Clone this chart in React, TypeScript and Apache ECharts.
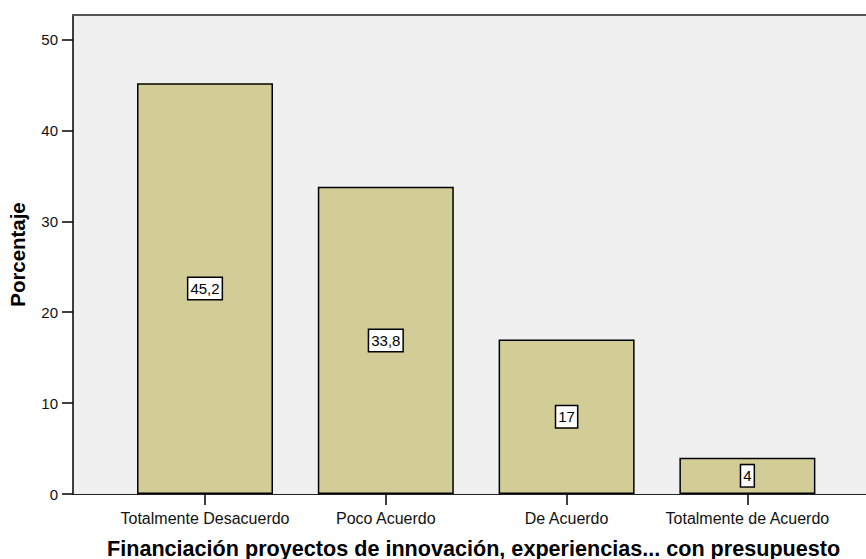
import React, { useEffect, useRef } from "react";
import * as echarts from "echarts";

const categories = ["Totalmente Desacuerdo", "Poco Acuerdo", "De Acuerdo", "Totalmente de Acuerdo"];
const percentages = [45.2, 33.8, 17, 4];
const yTicks = [0, 10, 20, 30, 40, 50];
const yAxisTitle = "Porcentaje";
const xAxisTitle = "Financiación proyectos de innovación, experiencias... con presupuesto";

const FONT = "'Liberation Sans', Arial, sans-serif";

export default function App() {
  const ref = useRef<HTMLDivElement>(null);
  useEffect(() => {
    document.body.style.margin = "0";
    if (!ref.current) return;
    const chart = echarts.init(ref.current, null, { renderer: "svg" });
    const yMax = 52.7;
    chart.setOption({
      animation: false,
      backgroundColor: "#ffffff",
      textStyle: { fontFamily: FONT },
      grid: [
        { left: 114.6, right: 28.2, top: 15, bottom: 65, containLabel: false, outerBoundsMode: "none" },
        { left: 73, right: 0, top: 15, bottom: 65, show: true, backgroundColor: "#f0f0f0", borderWidth: 0, containLabel: false, outerBoundsMode: "none" },
      ],
      xAxis: [
        {
          type: "category",
          gridIndex: 0,
          data: categories,
          axisLine: { show: false },
          axisTick: { show: true, alignWithLabel: true, length: 11, lineStyle: { color: "#000", width: 1.5 } },
          axisLabel: { fontSize: 16, color: "#111", margin: 16, fontFamily: FONT, interval: 0 },
          splitLine: { show: false },
        },
        {
          type: "value",
          gridIndex: 1,
          min: 0,
          max: 1,
          position: "bottom",
          axisLine: { show: true, lineStyle: { color: "#222", width: 1 } },
          axisTick: { show: false },
          axisLabel: { show: false },
          splitLine: { show: false },
        },
        {
          type: "value",
          gridIndex: 1,
          min: 0,
          max: 1,
          position: "top",
          axisLine: { show: true, lineStyle: { color: "#555", width: 2 } },
          axisTick: { show: false },
          axisLabel: { show: false },
          splitLine: { show: false },
        },
      ],
      yAxis: [
        {
          type: "value",
          gridIndex: 0,
          min: 0,
          max: yMax,
          show: false,
          splitLine: { show: false },
        },
        {
          type: "value",
          gridIndex: 1,
          min: 0,
          max: yMax,
          name: yAxisTitle,
          nameLocation: "middle",
          nameGap: 45,
          nameRotate: 90,
          nameTextStyle: { fontSize: 20.4, fontWeight: "bold", color: "#000", fontFamily: FONT },
          axisLine: { show: true, lineStyle: { color: "#000", width: 1.5 } },
          axisTick: { show: true, length: 11, customValues: yTicks, lineStyle: { color: "#000", width: 1.5 } },
          axisLabel: { fontSize: 15, color: "#111", margin: 15, customValues: yTicks, fontFamily: FONT },
          splitLine: { show: false },
        },
      ],
      graphic: [
        {
          type: "text",
          left: 107,
          top: 537,
          style: {
            text: xAxisTitle,
            fontSize: 21.6,
            fontWeight: "bold",
            fill: "#000",
            fontFamily: FONT,
          },
        },
      ],
      series: [
        {
          type: "bar",
          xAxisIndex: 0,
          yAxisIndex: 0,
          data: percentages,
          barWidth: 136,
          itemStyle: { color: "#d2cd96", borderColor: "#000", borderWidth: 1.5 },
          label: {
            show: true,
            position: "inside",
            formatter: (p: any) => String(p.value).replace(".", ","),
            backgroundColor: "#fff",
            borderColor: "#000",
            borderWidth: 1.5,
            padding: [2, 2],
            fontSize: 15,
            lineHeight: 17,
            color: "#000",
            fontFamily: FONT,
          },
        },
      ],
    });
    return () => chart.dispose();
  }, []);
  return <div ref={ref} style={{ width: 866, height: 559, position: "absolute", left: 0, top: 0 }} />;
}
